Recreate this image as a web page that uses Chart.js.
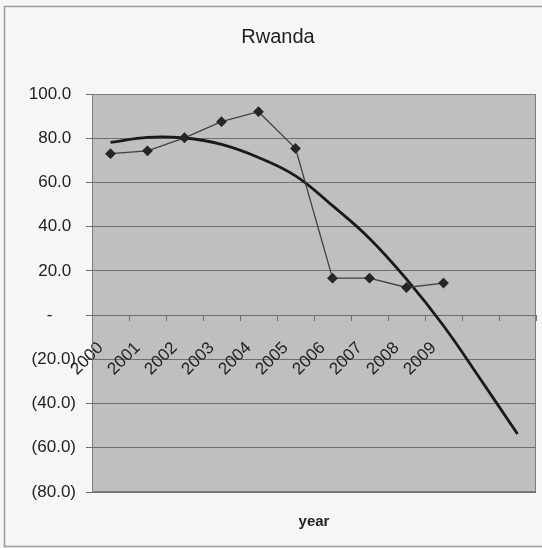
<!DOCTYPE html>
<html>
<head>
<meta charset="utf-8">
<script src="https://cdn.jsdelivr.net/npm/chart.js@4.4.1/dist/chart.umd.min.js"></script>
<style>
  html, body { margin: 0; padding: 0; background: #f6f6f6; }
  #wrap { width: 542px; height: 548px; }
</style>
</head>
<body>
<div id="wrap"><canvas id="c" width="542" height="548"></canvas></div>
<script>
// Categories (two trailing slots carry the trend line past 2009)
const years = ['2000', '2001', '2002', '2003', '2004', '2005', '2006', '2007', '2008', '2009', '', ''];
// Observed series
const observed = [73.0, 74.3, 80.2, 87.5, 92.0, 75.4, 16.7, 16.7, 12.5, 14.5, null, null];
// Polynomial trend line
const trend = [78.1, 80.4, 80.1, 77.2, 71.3, 63.0, 49.5, 34.7, 16.3, -4.8, -29.0, -53.8];
// Value axis
const yMin = -80;
const yMax = 100;
const yStep = 20;

const FONT = '"Liberation Sans", Arial, Helvetica, sans-serif';

// Accounting-style labels: zero as a dash, negatives in brackets
function fmtValue(v) {
  if (Math.abs(v) < 1e-9) return '-     ';
  if (v < 0) return '(' + Math.abs(v).toFixed(1) + ')';
  return v.toFixed(1) + ' ';
}

const framePlugin = {
  id: 'frame',
  beforeDraw(chart) {
    const { ctx, chartArea: a, width, height } = chart;
    ctx.save();
    ctx.fillStyle = '#f6f6f6';
    ctx.fillRect(0, 0, width, height);
    ctx.strokeStyle = '#9c9c9c';
    ctx.lineWidth = 1.5;
    ctx.strokeRect(4.5, 6.5, width + 10, height - 8);
    ctx.fillStyle = '#bfbfbf';
    ctx.fillRect(a.left, a.top, a.right - a.left, a.bottom - a.top);
    ctx.restore();
  },
  beforeDatasetsDraw(chart) {
    const { ctx, chartArea: a } = chart;
    ctx.save();
    ctx.strokeStyle = '#7c7c7c';
    ctx.lineWidth = 1;
    ctx.strokeRect(a.left + 0.5, a.top + 0.5, a.right - a.left - 1, a.bottom - a.top - 1);
    ctx.restore();
  },
  afterDraw(chart) {
    const { ctx, chartArea: a } = chart;
    ctx.save();
    ctx.fillStyle = '#222';
    ctx.textAlign = 'center';
    ctx.textBaseline = 'middle';
    ctx.font = '20px ' + FONT;
    ctx.fillText('Rwanda', 278, 37);
    ctx.font = 'bold 15px ' + FONT;
    ctx.fillText('year', (a.left + a.right) / 2, 522);
    ctx.restore();
  }
};

new Chart(document.getElementById('c'), {
  type: 'line',
  data: {
    labels: years,
    datasets: [
      {
        label: 'Rwanda',
        data: observed,
        borderColor: '#404040',
        backgroundColor: '#262626',
        borderWidth: 1.3,
        pointStyle: 'rectRot',
        pointRadius: 4.5,
        pointBorderColor: '#262626',
        pointBackgroundColor: '#262626',
        tension: 0,
        spanGaps: false
      },
      {
        label: 'Poly. (Rwanda)',
        data: trend,
        borderColor: '#1a1a1a',
        borderWidth: 2.8,
        pointRadius: 0,
        tension: 0.4,
        fill: false
      }
    ]
  },
  options: {
    responsive: false,
    animation: false,
    devicePixelRatio: 1,
    layout: { padding: { left: 0, top: 94, right: 6, bottom: 56 } },
    plugins: {
      legend: { display: false },
      title: { display: false },
      tooltip: { enabled: false }
    },
    scales: {
      x: {
        position: { y: 0 },
        offset: true,
        afterFit(scale) {
          scale.paddingLeft = 0;
          scale.paddingRight = 0;
        },
        grid: {
          drawOnChartArea: false,
          drawTicks: true,
          tickLength: 5,
          offset: true,
          color: '#6f6f6f'
        },
        border: { display: true, color: '#6f6f6f' },
        ticks: {
          autoSkip: false,
          minRotation: 45,
          maxRotation: 45,
          padding: 18,
          labelOffset: -10,
          color: '#222',
          font: { family: FONT, size: 17 }
        }
      },
      y: {
        min: yMin,
        max: yMax,
        afterFit(scale) { scale.width = 92; },
        grid: {
          color: '#6f6f6f',
          tickLength: 6,
          drawTicks: true
        },
        border: { display: true, color: '#7c7c7c' },
        ticks: {
          stepSize: yStep,
          padding: 10,
          color: '#222',
          font: { family: FONT, size: 17 },
          callback: (v) => fmtValue(v)
        }
      }
    }
  },
  plugins: [framePlugin]
});
</script>
</body>
</html>
